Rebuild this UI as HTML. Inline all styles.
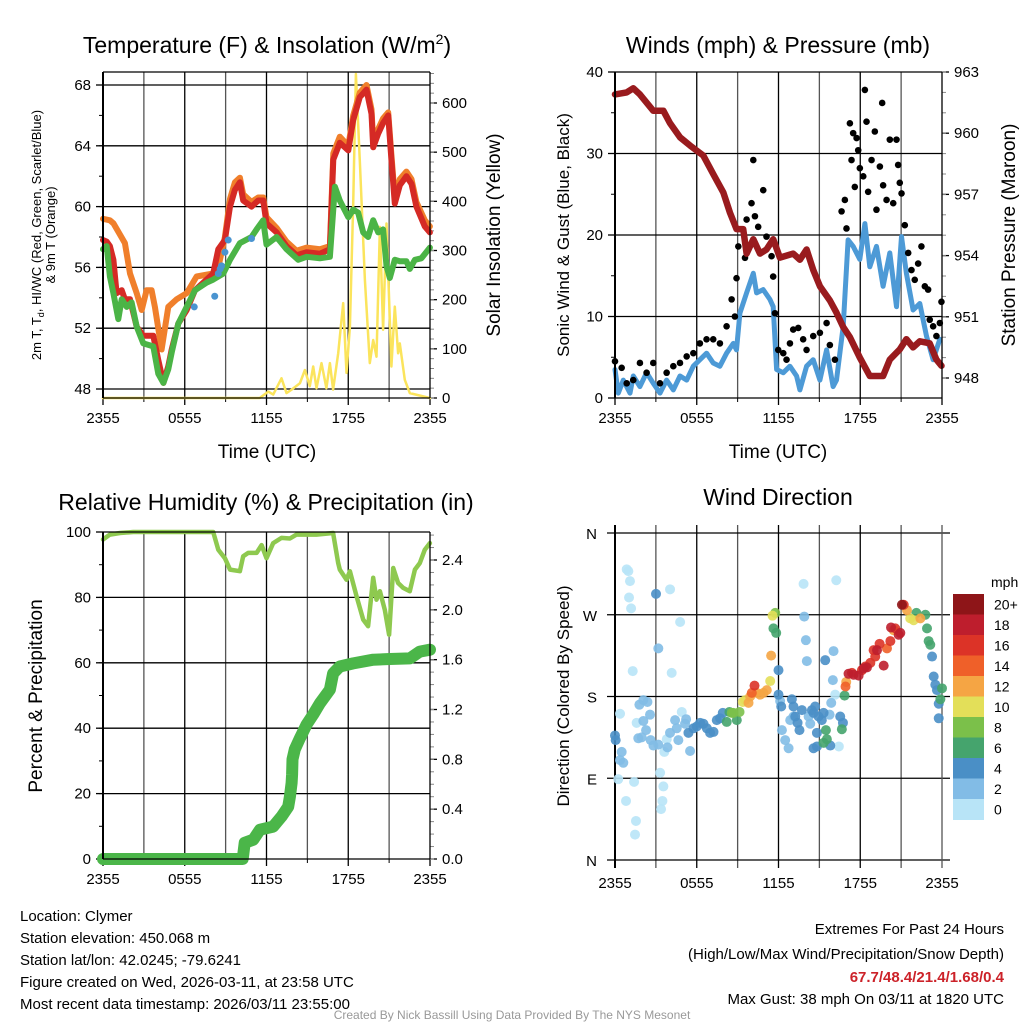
<!DOCTYPE html>
<html><head><meta charset="utf-8"><style>
html,body{margin:0;padding:0;background:#fff;}
svg{display:block;font-family:"Liberation Sans",Arial,sans-serif;}
</style></head><body>
<svg id="s" width="1024" height="1024" viewBox="0 0 1024 1024" xmlns="http://www.w3.org/2000/svg">
<rect width="1024" height="1024" fill="#fff"/>
<g id="g1"></g>
<g id="g2"></g>
<g id="g3"></g>
<g id="g4"></g>
<text x="267" y="53" font-size="23" text-anchor="middle">Temperature (F) &amp; Insolation (W/m<tspan font-size="14" dy="-9">2</tspan><tspan dy="9">)</tspan></text>
<text x="778" y="53" font-size="23" text-anchor="middle">Winds (mph) &amp; Pressure (mb)</text>
<text x="266" y="510" font-size="23" text-anchor="middle">Relative Humidity (%) &amp; Precipitation (in)</text>
<text x="778" y="505" font-size="23" text-anchor="middle">Wind Direction</text>
<text x="267" y="458" font-size="19" text-anchor="middle">Time (UTC)</text>
<text x="778" y="458" font-size="19" text-anchor="middle">Time (UTC)</text>
<g font-size="13" text-anchor="middle">
<text transform="translate(41,235) rotate(-90)">2m T, T<tspan font-size="9" dy="3">d</tspan><tspan dy="-3">, HI/WC (Red, Green, Scarlet/Blue)</tspan></text>
<text transform="translate(55,235) rotate(-90)">&amp; 9m T (Orange)</text>
</g>
<text transform="translate(500,235) rotate(-90)" font-size="19" text-anchor="middle">Solar Insolation (Yellow)</text>
<text transform="translate(569,235) rotate(-90)" font-size="17" text-anchor="middle">Sonic Wind &amp; Gust (Blue, Black)</text>
<text transform="translate(1015,235) rotate(-90)" font-size="19" text-anchor="middle">Station Pressure (Maroon)</text>
<text transform="translate(42,696) rotate(-90)" font-size="19" text-anchor="middle">Percent &amp; Precipitation</text>
<text transform="translate(569,696) rotate(-90)" font-size="17" text-anchor="middle">Direction (Colored By Speed)</text>
<g font-size="15">
<text x="20" y="921">Location: Clymer</text>
<text x="20" y="943">Station elevation: 450.068 m</text>
<text x="20" y="965">Station lat/lon: 42.0245; -79.6241</text>
<text x="20" y="987">Figure created on Wed, 2026-03-11, at 23:58 UTC</text>
<text x="20" y="1009">Most recent data timestamp: 2026/03/11 23:55:00</text>
</g>
<g font-size="15" text-anchor="end">
<text x="1004" y="934">Extremes For Past 24 Hours</text>
<text x="1004" y="959">(High/Low/Max Wind/Precipitation/Snow Depth)</text>
<text x="1004" y="982" fill="#cc2229" font-weight="bold">67.7/48.4/21.4/1.68/0.4</text>
<text x="1004" y="1004">Max Gust: 38 mph On 03/11 at 1820 UTC</text>
</g>
<text x="512" y="1019" font-size="12" fill="#999" text-anchor="middle">Created By Nick Bassill Using Data Provided By The NYS Mesonet</text>
</svg>
<script>
// ---------- DATA ----------
const xTickLabels=["2355","0555","1155","1755","2355"];
const tempTicks=[48,52,56,60,64,68];
const solarTicks=[0,100,200,300,400,500,600];
const windTicks=[0,10,20,30,40];
const presTicks=[948,951,954,957,960,963];
const rhTicks=[0,20,40,60,80,100];
const precipTicks=["0.0","0.4","0.8","1.2","1.6","2.0","2.4"];
const dirTicks=["N","E","S","W","N"];
const speedLabels=["20+","18","16","14","12","10","8","6","4","2","0"];
const speedColors=["#8e1518","#be1e2d","#dc3327","#ef6029","#f5a544","#e3df59","#7bc04a","#45a46d","#4a8fc6","#82bce6","#b8e4f7"];

const redH=[0,0.27,0.51,0.76,1.0,1.37,1.61,1.98,2.47,2.96,3.69,4.06,4.43,4.79,5.04,5.53,6.14,6.75,7.6,8.09,8.46,8.95,9.32,9.68,10.05,10.29,10.9,11.39,11.76,12.0,12.74,13.47,14.2,14.94,15.92,16.65,16.9,17.38,18.0,18.36,18.85,19.34,19.71,19.83,20.2,20.56,20.93,21.17,21.42,21.78,22.27,22.64,23.0,23.62,23.99];
const redT=[57.8,57.7,57.4,56.5,54.3,54.5,53.9,53.9,52.1,51.5,51.5,49.9,48.4,49.5,50.6,52.3,53.2,54.5,55.2,55.6,57.2,57.8,60.0,61.1,61.6,60.4,60.0,60.4,60.4,58.9,58.3,57.4,56.8,57.0,56.9,57.2,63.1,64.2,63.7,65.7,67.2,67.7,66.1,63.9,64.8,65.5,66.0,63.1,60.2,61.4,62.0,61.5,60.0,58.7,58.3];
const orangeH=[0,0.51,0.76,1.61,1.98,2.47,2.84,3.2,3.57,3.81,4.3,4.79,5.4,6.14,6.87,8.09,8.46,8.95,9.32,9.68,10.05,10.29,10.9,11.39,11.76,12.0,12.74,13.47,14.2,14.94,15.92,16.65,16.9,17.38,18.0,18.36,18.85,19.34,19.71,19.83,20.2,20.56,20.93,21.17,21.42,21.78,22.27,22.64,23.0,23.62,23.99];
const orangeT=[59.2,59.1,58.9,57.6,55.6,54.3,53.2,54.5,54.5,53.4,50.6,53.4,53.9,54.3,55.4,55.6,56.0,58.0,60.5,61.6,61.9,60.8,60.3,60.6,60.6,59.3,58.6,57.7,57.1,57.3,57.2,57.4,63.5,64.6,64.0,66.0,67.5,68.0,66.4,64.3,65.1,65.8,66.2,63.4,60.6,61.8,62.3,61.8,60.3,59.1,58.7];
const greenH=[0,0.27,0.51,0.76,1.12,1.37,1.74,2.1,2.47,2.96,3.69,4.06,4.43,4.79,5.04,5.53,6.14,6.75,7.6,8.09,8.83,9.32,10.05,10.9,11.27,11.76,12.0,12.74,13.47,14.33,14.94,15.92,16.65,17.02,17.38,18.0,18.36,18.73,19.1,19.46,19.83,20.2,20.56,20.81,21.05,21.42,21.78,22.27,22.52,22.89,23.37,23.99];
const greenT=[57.2,57.4,55.4,54.3,52.6,53.9,53.4,53.7,52.1,51.0,50.8,49.0,48.4,49.3,50.4,52.3,53.4,54.5,55.0,55.2,55.6,56.5,57.6,58.0,58.5,59.1,57.5,58.0,57.2,56.5,56.7,56.6,56.7,61.3,60.4,59.3,59.8,59.6,58.3,58.0,59.1,58.3,58.5,56.1,55.3,56.5,56.4,56.4,55.9,56.5,56.6,57.3];
const blueH=[6.7,8.2,8.46,8.6,8.7,8.95,9.19,10.9];
const blueT=[53.4,54.1,55.6,55.9,56.1,57.0,57.8,57.9];
const solarH=[0,11.5,12.13,12.49,13.1,13.47,13.84,14.45,14.82,15.18,15.43,15.67,16.04,16.4,16.65,16.89,17.26,17.63,17.87,18.12,18.36,18.56,18.85,19.22,19.58,19.83,20.07,20.32,20.56,20.81,21.17,21.42,21.66,21.78,22.15,22.52,23.99];
const solarW=[0,0,13,7,40,10,17,30,57,24,64,20,71,20,71,17,91,193,51,145,395,659,483,240,71,118,84,348,139,355,64,186,91,111,37,10,0];

const presH=[0,0.86,1.34,1.83,2.81,3.55,4.03,4.77,5.5,6.48,7.21,7.95,8.44,8.92,9.41,9.66,10.15,10.64,11.12,11.61,12.1,13.08,13.57,14.06,14.55,15.04,15.77,16.26,16.75,17.24,17.97,18.7,19.68,20.17,20.9,21.39,21.88,22.37,23.1,23.59,23.96];
const presMb=[961.9,962.0,962.2,961.9,961.1,961.1,960.5,959.8,959.4,958.9,958.0,957.1,956.1,955.3,955.3,954.1,954.8,954.1,954.3,954.8,953.9,954.1,953.8,954.3,953.3,952.5,951.8,951.2,950.5,950.0,949.0,948.1,948.1,948.9,949.4,949.9,949.5,949.8,949.7,948.9,948.6];
const windH=[0,0.24,0.61,1.1,1.34,1.83,2.32,2.81,3.3,3.79,4.28,4.77,5.26,5.75,6.23,6.72,7.21,7.7,8.19,8.68,8.92,9.17,9.66,10.15,10.39,10.88,11.37,11.61,11.86,12.35,12.84,13.33,13.57,14.06,14.55,15.04,15.53,16.01,16.26,16.75,17.11,17.48,17.97,18.34,18.7,19.19,19.68,20.17,20.66,21.03,21.39,21.88,22.37,22.86,23.35,23.84];
const windMph=[3.5,0.6,2.2,0.6,2.7,1.4,3.1,1.8,0.6,2.2,1.0,2.7,2.2,3.9,4.7,5.5,4.3,3.9,5.5,6.7,5.9,10.4,12.9,15.3,12.9,13.3,12.1,11.2,3.5,3.1,3.9,2.7,1.0,3.9,4.7,2.2,5.9,1.4,2.2,8.8,19.4,18.6,17.0,21.4,16.1,18.6,13.7,17.8,11.2,19.8,15.3,10.8,11.6,7.6,4.7,7.2];
const gustH=[0,0.49,0.86,1.34,1.83,2.32,2.81,3.3,3.79,4.28,4.77,5.26,5.75,6.23,6.72,7.21,7.7,8.19,8.56,8.8,8.92,9.05,9.54,9.66,10.02,10.15,10.27,10.51,10.88,11.12,11.49,11.61,11.74,11.98,12.35,12.59,12.84,13.08,13.45,13.81,14.06,14.55,15.04,15.53,15.77,16.14,16.63,16.87,16.99,17.24,17.36,17.48,17.6,17.73,17.85,17.97,18.22,18.34,18.46,18.58,18.83,19.07,19.19,19.44,19.61,19.68,19.93,20.17,20.42,20.66,20.78,20.9,21.03,21.27,21.52,21.76,22.0,22.25,22.49,22.74,22.98,23.1,23.35,23.59,23.84,23.96];
const gustMph=[4.5,3.7,1.8,2.2,4.3,3.1,4.3,1.8,3.1,3.9,4.3,5.1,5.5,6.7,7.2,7.2,6.7,8.8,12.1,10.0,14.7,18.6,17.2,21.9,23.9,29.2,22.3,21.0,25.5,19.8,17.4,14.9,10.4,5.9,5.5,4.7,6.7,8.4,8.6,7.2,5.9,7.6,8.0,9.2,6.5,4.7,22.9,24.3,20.8,33.7,29.2,32.5,25.9,31.9,30.4,28.2,27.2,37.8,33.9,25.3,29.2,32.7,23.1,28.4,36.2,26.1,24.3,31.7,23.9,31.7,28.6,26.4,25.1,21.2,17.8,15.7,14.5,16.5,18.6,13.7,13.3,9.6,8.8,7.6,9.2,11.8];

const rhH=[0,0.51,1.25,2.22,8.09,8.46,8.95,9.32,10.05,10.29,10.66,11.27,11.64,12.0,12.49,13.1,13.72,14.2,15.67,16.89,17.26,17.38,17.87,18.12,18.61,19.1,19.46,19.83,20.07,20.32,20.68,21.0,21.3,21.66,22.03,22.52,22.89,23.25,23.62,23.99];
const rhPct=[97.7,99.2,99.7,100,100,94.6,92,88.5,88,92.6,93.6,93.6,96,92,96.6,98.2,98.0,99.2,99.2,99.7,90.5,88.5,85.4,88,80.3,73.2,71.2,86,79.3,81.9,76.2,68.6,89,84.4,82.9,81.9,88.5,90.5,94.6,96.6];
const precipH=[0,10.25,10.4,11.03,11.52,12.49,13.1,13.59,13.72,13.84,13.88,13.91,14.08,14.45,14.94,15.43,15.92,16.65,16.89,17.38,18.36,19.83,21.05,22.52,23.25,24];
const precipIn=[0,0,0.13,0.155,0.235,0.26,0.34,0.42,0.5,0.61,0.68,0.8,0.88,0.97,1.08,1.16,1.25,1.36,1.49,1.545,1.57,1.6,1.605,1.61,1.665,1.68];

const dirH=[0.86,0.98,1.1,1.03,1.18,1.3,0.37,1.59,0.24,0.81,1.4,1.54,1.47,3.31,3.55,3.48,3.38,3.62,3.8,4.04,4.16,4.78,4.9,13.84,16.24,16.43,16.16,
0.37,0.61,0.49,1.79,2.08,2.38,2.57,2.08,2.28,1.96,1.71,2.62,2.82,3.18,3.85,4.04,4.41,4.53,4.65,5.22,5.14,5.51,3.18,13.89,14.01,14.08,16.04,15.99,15.87,15.75,12.12,12.25,12.49,12.74,12.86,13.1,14.21,14.33,
3.01,0,0.05,5.39,5.76,6.0,6.25,6.49,6.74,6.98,7.23,7.47,7.71,7.91,12.0,12.0,12.2,12.98,13.1,13.23,13.4,13.54,13.72,14.45,14.57,14.69,14.94,15.18,15.31,14.82,14.57,14.82,15.8,15.43,16.53,16.73,23.27,23.39,23.51,23.63,23.76,23.76,
8.2,8.4,8.94,11.63,11.83,15.48,15.55,15.31,16.65,16.85,22.12,22.78,22.9,23.02,23.14,24.0,23.88,
8.57,8.69,9.14,11.76,
9.38,9.55,11.39,11.56,21.67,21.92,
9.8,9.92,10.41,10.65,10.9,11.14,11.46,16.97,21.43,22.41,20.45,
10.04,16.92,19.96,
10.24,18.98,19.1,19.42,18.12,18.37,18.74,17.39,20.21,21.19,20.57,
17.14,17.51,17.88,18.25,18.49,19.23,19.72,20.26,20.82,20.94,
21.06];
const dirDeg=[320,318,307,289,277,208,161,151,89,65,86,43,28,96,81,65,56,119,133,298,206,262,163,304,308,125,182,
110,107,119,171,176,174,160,153,143,135,134,132,126,127,124,140,154,145,132,155,150,120,233,268,242,219,230,198,173,160,175,143,132,123,154,158,158,150,
293,137,132,140,145,147,151,150,145,140,141,154,156,162,209,182,169,177,169,158,151,143,165,165,162,169,158,154,162,140,123,125,126,220,158,151,224,202,193,187,172,156,
152,163,154,255,250,143,133,129,144,181,272,270,255,241,237,189,177,
162,162,163,272,
174,176,197,269,266,264,
173,180,184,182,184,187,225,196,275,266,253,
184,191,233,
192,231,224,238,209,213,217,206,241,281,255,
205,204,203,211,212,231,214,256,248,250,
281];
const dirSpeed=[1,1,1,1,1,1,1,1,1,1,1,1,1,1,1,1,1,1,1,1,1,1,1,1,1,1,1,
3,3,3,3,3,3,3,3,3,3,3,3,3,3,3,3,3,3,3,3,3,3,3,3,3,3,3,3,3,3,3,3,3,3,3,3,3,3,
5,5,5,5,5,5,5,5,5,5,5,5,5,5,5,5,5,5,5,5,5,5,5,5,5,5,5,5,5,5,5,5,5,5,5,5,5,5,5,5,5,5,
7,7,7,7,7,7,7,7,7,7,7,7,7,7,7,7,7,
9,9,9,9,
11,11,11,11,11,11,
13,13,13,13,13,13,13,13,13,13,13,
15,15,15,
17,17,17,17,17,17,17,17,17,17,17,
19,19,19,19,19,19,19,19,19,19,
21];

// ---------- HELPERS ----------
const NS="http://www.w3.org/2000/svg";
function mk(parent,tag,attrs){const e=document.createElementNS(NS,tag);for(const k in attrs)e.setAttribute(k,attrs[k]);parent.appendChild(e);return e;}
function lin(d0,d1,r0,r1){return v=>r0+(v-d0)*(r1-r0)/(d1-d0);}
function pathOf(xs,ys,fx,fy){return xs.map((h,i)=>(i?"L":"M")+fx(h).toFixed(1)+","+fy(ys[i]).toFixed(1)).join("");}

function frame(g,x0,x1,y0,y1,fy,ticks,labels,minorStep,tmin,tmax){
  const fx=lin(0,24,x0,x1);
  for(let h=3;h<24;h+=3){const l=mk(g,"line",{x1:fx(h),x2:fx(h),y1:y0,y2:y1,stroke:h%6==0?"#000":"#555","stroke-width":1.3});
    
    }
  ticks.forEach((t,i)=>{const y=fy(t);
    if(y>y0+2&&y<y1-2){const l=mk(g,"line",{x1:x0,x2:x1,y1:y,y2:y,stroke:"#000","stroke-width":1.3});
      
      }
    mk(g,"line",{x1:x0-7,x2:x0,y1:y,y2:y,stroke:"#000","stroke-width":1.3});
    const t2=mk(g,"text",{x:x0-12,y:y+5,"font-size":15,"text-anchor":"end"});t2.textContent=labels[i];
    
    
  });
  for(let v=tmin;v<=tmax+1e-6;v+=minorStep){const y=fy(v);if(y>=y0&&y<=y1)mk(g,"line",{x1:x0-4,x2:x0,y1:y,y2:y,stroke:"#000","stroke-width":1});}
  xTickLabels.forEach((s,i)=>{const x=fx(i*6);
    mk(g,"line",{x1:x,x2:x,y1:y1,y2:y1+7,stroke:"#000","stroke-width":1.3});
    const t=mk(g,"text",{x:x,y:y1+25,"font-size":15,"text-anchor":"middle"});t.textContent=s;
    
    });
  for(let h=3;h<24;h+=6)mk(g,"line",{x1:fx(h),x2:fx(h),y1:y1,y2:y1+4,stroke:"#000","stroke-width":1});
  return fx;
}
function rightAxis(g,x1,fy,ticks,labels,minorStep,tmin,tmax,y0,y1){
  ticks.forEach((t,i)=>{const y=fy(t);mk(g,"line",{x1:x1,x2:x1+7,y1:y,y2:y,stroke:"#000","stroke-width":1.3});
    const tx=mk(g,"text",{x:x1+12,y:y+5,"font-size":15});tx.textContent=labels[i];
    
    });
  for(let v=tmin;v<=tmax+1e-6;v+=minorStep){const y=fy(v);if(y>=y0&&y<=y1)mk(g,"line",{x1:x1,x2:x1+4,y1:y,y2:y,stroke:"#888","stroke-width":1});}
}
function border(g,x0,x1,y0,y1){
  mk(g,"line",{x1:x0,x2:x0,y1:y0,y2:y1,stroke:"#000","stroke-width":2});
  mk(g,"line",{x1:x0,x2:x1,y1:y1,y2:y1,stroke:"#000","stroke-width":1.3});
  mk(g,"line",{x1:x1,x2:x1,y1:y0,y2:y1,stroke:"#000","stroke-width":1.3});
  mk(g,"line",{x1:x0,x2:x1,y1:y0,y2:y0,stroke:"#000","stroke-width":1.3});
}
function line(g,d,color,w,name){const p=mk(g,"path",{d:d,fill:"none",stroke:color,"stroke-width":w,"stroke-linejoin":"round","stroke-linecap":"round"});
  
  return p;}

// ---------- PANEL 1 ----------
(function(){const g=document.getElementById("g1");
 const x0=103,x1=430,y0=72,y1=398;
 const fy=lin(48,68,389,85), fs=lin(0,600,398,103);
 const fx=frame(g,x0,x1,y0,y1,fy,tempTicks,tempTicks.map(String),2,48,68);
 rightAxis(g,x1,fs,solarTicks,solarTicks.map(String),20,0,660,y0,y1);
 line(g,pathOf(solarH,solarW,fx,fs),"#fbe45c",2.5,"solar-insolation-line");
 line(g,pathOf(orangeH,orangeT,fx,fy),"#f07f2b",6,"temp-9m-line");
 line(g,pathOf(redH,redT,fx,fy),"#d52a25",6,"temp-2m-line");
 line(g,pathOf(greenH,greenT,fx,fy),"#4bb446",6,"dewpoint-line");
 blueH.forEach((h,i)=>{const c=mk(g,"circle",{cx:fx(h),cy:fy(blueT[i]),r:3.5,fill:"#4a94d0"});
   
   });
 border(g,x0,x1,y0,y1);
})();

// ---------- PANEL 2 ----------
(function(){const g=document.getElementById("g2");
 const x0=615,x1=942,y0=72,y1=398;
 const fy=lin(0,40,398,72), fp=lin(948,963,378,72);
 const fx=frame(g,x0,x1,y0,y1,fy,windTicks,windTicks.map(String),5,0,40);
 rightAxis(g,x1,fp,presTicks,presTicks.map(String),1,947,963,y0,y1);
 line(g,pathOf(windH,windMph,fx,fy),"#4d9ad6",5,"sonic-wind-line");
 gustH.forEach((h,i)=>{const c=mk(g,"circle",{cx:fx(h),cy:fy(gustMph[i]),r:3.3,fill:"#000"});
   
   });
 line(g,pathOf(presH,presMb,fx,fp),"#991b1e",6.5,"pressure-line");
 border(g,x0,x1,y0,y1);
})();

// ---------- PANEL 3 ----------
(function(){const g=document.getElementById("g3");
 const x0=103,x1=430,y0=532,y1=859;
 const fy=lin(0,100,859,532), fp=lin(0,2.4,859,560);
 const fx=frame(g,x0,x1,y0,y1,fy,rhTicks,rhTicks.map(String),10,0,100);
 rightAxis(g,x1,fp,precipTicks.map(Number),precipTicks,0.1,0,2.6,y0,y1);
 line(g,pathOf(rhH,rhPct,fx,fy),"#8ec94f",4.5,"relative-humidity-line");
 line(g,pathOf(precipH,precipIn,fx,fp),"#4bb649",12,"precipitation-line");
 border(g,x0,x1,y0,y1);
})();

// ---------- PANEL 4 ----------
(function(){const g=document.getElementById("g4");
 const x0=615,x1=942,y0=533,y1=860;
 const fy=lin(0,360,860,533);
 const fx=lin(0,24,x0,x1);
 for(let h=3;h<24;h+=3){const l=mk(g,"line",{x1:fx(h),x2:fx(h),y1:y0-8,y2:y1+8,stroke:h%6==0?"#000":"#555","stroke-width":1.3});
   
   }
 dirTicks.forEach((s,i)=>{const y=fy(i*90);
   const l=mk(g,"line",{x1:x0-8,x2:x1+8,y1:y,y2:y,stroke:"#000","stroke-width":1.3});
   
   
   const t=mk(g,"text",{x:x0-18,y:y+6,"font-size":15,"text-anchor":"end"});t.textContent=s;
   
   });
 mk(g,"line",{x1:x0,x2:x0,y1:y0-8,y2:y1+8,stroke:"#000","stroke-width":2});
 mk(g,"line",{x1:x1,x2:x1,y1:y0-8,y2:y1+8,stroke:"#555","stroke-width":1.3});
 xTickLabels.forEach((s,i)=>{const t=mk(g,"text",{x:fx(i*6),y:y1+28,"font-size":15,"text-anchor":"middle"});t.textContent=s;
   
   });
 dirH.forEach((h,i)=>{const sp=dirSpeed[i];const bin=Math.min(10,Math.floor(sp/2));
   const c=mk(g,"circle",{cx:fx(h),cy:fy(dirDeg[i]),r:5,fill:speedColors[10-bin],"fill-opacity":0.9});
   
   });
 const cx=953,cw=31,ctop=594,ch=20.5;
 const ut=mk(g,"text",{x:991,y:587,"font-size":14});ut.textContent="mph";
 
 
 speedColors.forEach((c,i)=>{const r=mk(g,"rect",{x:cx,y:ctop+i*ch,width:cw,height:ch+0.5,fill:c});
   
   
   const t=mk(g,"text",{x:994,y:ctop+i*ch+ch/2+5,"font-size":14});t.textContent=speedLabels[i];
   
   });
})();
</script>
</body></html>
